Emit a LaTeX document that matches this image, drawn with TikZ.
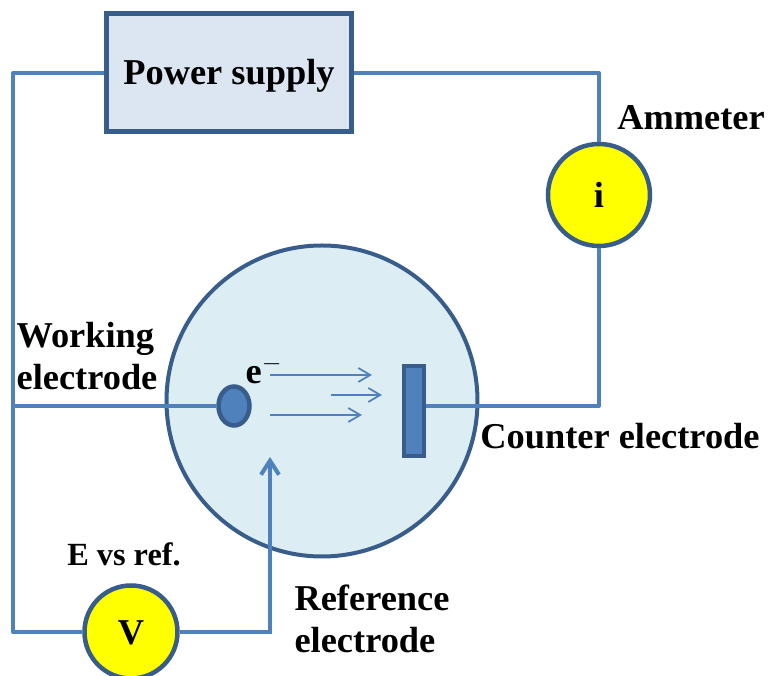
\documentclass[tikz,border=0pt]{standalone}
\usepackage{fontspec}
\setmainfont{Liberation Serif}
\usetikzlibrary{arrows.meta,calc,shapes,positioning}

\definecolor{wire}{HTML}{4F81BD}
\definecolor{edge}{HTML}{385D8A}
\definecolor{boxfill}{HTML}{DCE6F2}
\definecolor{cellfill}{HTML}{DCEDF4}
\definecolor{meterfill}{HTML}{FFFF00}

\begin{document}
\begin{tikzpicture}[
    on grid,
    node distance = 2cm,
    font = \fontsize{20.7}{23.9}\selectfont\bfseries
  ]

  \tikzstyle {every node} = [inner sep = 0]
  \tikzstyle {wireline} = [draw = wire, line width = 0.08cm, line join = round]
  \tikzstyle {flow} = [draw = wire, line width = 0.035cm, -{Straight Barb[length = 0.24cm, width = 0.28cm]}]
  \tikzstyle {reftip} = [draw = wire, line width = 0.08cm, -{Straight Barb[length = 0.28cm, width = 0.36cm]}]
  \tikzstyle {meter} = [circle, draw = edge, line width = 0.09cm, fill = meterfill]
  \tikzstyle {lbl} = [align = left]

  \path [use as bounding box] (-4.58,1.46) rectangle (10.82,-12.06);

  \node [rectangle, draw = edge, line width = 0.1cm, fill = boxfill, text height = 0.64cm, text depth = 0.16cm,
         minimum width = 4.9cm, minimum height = 2.36cm] (supply) {Power supply};
  \node [meter, minimum size = 2.04cm, below right = 2.44cm and 7.4cm of supply] (ammeter) {i};
  \node [circle, draw = edge, line width = 0.08cm, fill = cellfill, minimum size = 6.22cm,
         below right = 6.56cm and 1.86cm of supply] (cell) {};
  \node [ellipse, draw = edge, line width = 0.09cm, fill = wire, minimum width = 0.62cm,
         minimum height = 0.78cm, below left = 0.1cm and 1.76cm of cell] (working) {};
  \node [rectangle, draw = edge, line width = 0.08cm, fill = wire, minimum width = 0.4cm,
         minimum height = 1.8cm, below right = 0.21cm and 1.84cm of cell] (counter) {};
  \node [meter, minimum size = 1.86cm, text height = 0.5cm, below left = 4.62cm and 3.82cm of cell] (volt) {V};

  \coordinate [left = 4.32cm of supply] (topcorner);
  \coordinate [left = 2.36cm of volt] (lowcorner);
  \coordinate [below left = 1.12cm and 1.04cm of cell] (reftop);

  \draw [wireline] (volt.west) -- (lowcorner) -- (topcorner) -- (supply.west);
  \draw [wireline] (supply.east) -| (ammeter.north);
  \draw [wireline] (ammeter.south) |- (counter.east |- working);
  \draw [wireline] (lowcorner |- working) -- (working.west);
  \draw [reftip] (volt.east) -| (reftop);

  \coordinate [above left = 0.52cm and 1.04cm of cell] (flowa);
  \coordinate [right = 2.04cm of flowa] (flowb);
  \coordinate [above right = 0.12cm and 0.18cm of cell] (flowc);
  \coordinate [right = 1.02cm of flowc] (flowd);
  \coordinate [below left = 0.28cm and 1.04cm of cell] (flowe);
  \coordinate [right = 1.84cm of flowe] (flowf);
  \draw [flow] (flowa) -- (flowb);
  \draw [flow] (flowc) -- (flowd);
  \draw [flow] (flowe) -- (flowf);

  \node [above right = 1.54cm and 1.84cm of ammeter] (ammeterlbl) {Ammeter};
  \node [lbl, above left = 1cm and 2.94cm of working] (workinglbl) {Working\\electrode};
  \node [above right = 0.72cm and 0.6cm of working] (electron) {e$^{-}$};
  \node [below right = 0.5cm and 4.12cm of counter] (counterlbl) {Counter electrode};
  \node [font = \fontsize{18.4}{22}\selectfont\bfseries, above left = 1.56cm and 0.14cm of volt] (vslbl) {E vs ref.};
  \node [lbl, below right = 4.36cm and 1cm of cell] (reflbl) {Reference\\electrode};
\end{tikzpicture}
\end{document}
